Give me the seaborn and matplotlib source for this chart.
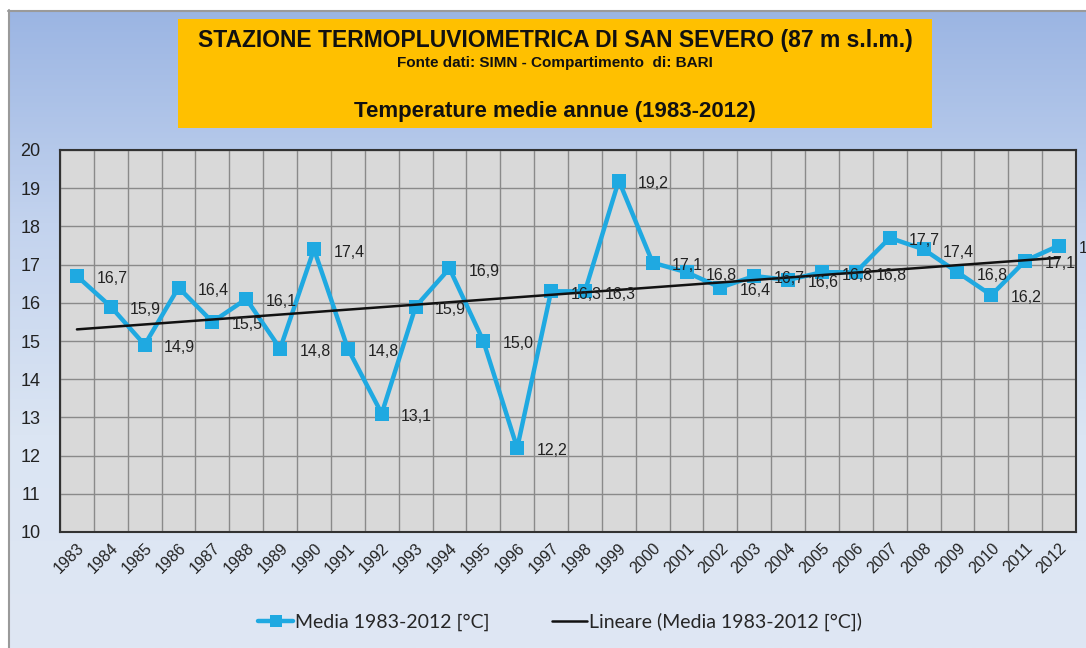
import matplotlib
matplotlib.use("Agg")
import matplotlib.pyplot as plt
import matplotlib.colors as mcolors
from matplotlib.lines import Line2D
from matplotlib.patches import Rectangle
import seaborn as sns
import pandas as pd
import numpy as np

# Data
years = list(range(1983, 2013))
temps = [16.7, 15.9, 14.9, 16.4, 15.5, 16.1, 14.8, 17.4, 14.8, 13.1,
         15.9, 16.9, 15.0, 12.2, 16.3, 16.3, 19.2, 17.05, 16.8, 16.4,
         16.7, 16.6, 16.8, 16.8, 17.7, 17.4, 16.8, 16.2, 17.1, 17.5]
labels = ["16,7", "15,9", "14,9", "16,4", "15,5", "16,1", "14,8", "17,4", "14,8", "13,1",
          "15,9", "16,9", "15,0", "12,2", "16,3", "16,3", "19,2", "17,1", "16,8", "16,4",
          "16,7", "16,6", "16,8", "16,8", "17,7", "17,4", "16,8", "16,2", "17,1", "17,5"]
y_ticks = list(range(10, 21))

df = pd.DataFrame({"idx": np.arange(len(years)), "temp": temps})

# Excel style linear trendline
slope, intercept = np.polyfit(df["idx"], df["temp"], 1)
df["trend"] = intercept + slope * df["idx"]

sns.set_theme(style="white")
plt.rcParams["font.family"] = ["Liberation Sans", "DejaVu Sans"]

fig = plt.figure(figsize=(10.86, 6.48), dpi=100)

# Background: white margin with a light blue gradient chart area
bg = fig.add_axes([0, 0, 1, 1], zorder=-10)
bg.set_xlim(0, 1086)
bg.set_ylim(648, 0)
bg.axis("off")
grad = np.linspace(0, 1, 256).reshape(-1, 1)
cmap = mcolors.LinearSegmentedColormap.from_list("bg", ["#9bb5e3", "#c3d3ee", "#dbe5f3", "#dfe7f4"])
bg.imshow(grad, cmap=cmap, aspect="auto", extent=[8, 1086, 648, 10], zorder=0)
bg.plot([8, 1086], [10.5, 10.5], color="#9a9a9a", lw=1.5, zorder=1)
bg.plot([8.5, 8.5], [10, 648], color="#9a9a9a", lw=1.5, zorder=1)

# Title box
bg.add_patch(Rectangle((178, 19), 754, 109, facecolor="#ffc000", edgecolor="none", zorder=2))
bg.text(555, 40, "STAZIONE TERMOPLUVIOMETRICA DI SAN SEVERO (87 m s.l.m.)",
        ha="center", va="center", fontsize=16.5, fontweight="bold", color="#111111", zorder=3)
bg.text(555, 63, "Fonte dati: SIMN - Compartimento  di: BARI",
        ha="center", va="center", fontsize=11, fontweight="bold", color="#111111", zorder=3)
bg.text(555, 112, "Temperature medie annue (1983-2012)",
        ha="center", va="center", fontsize=16, fontweight="bold", color="#111111", zorder=3)

# Plot area: x 60..1076, y 150..532
ax = fig.add_axes([60 / 1086, 1 - 532 / 648, 1016 / 1086, 382 / 648])
ax.set_facecolor("#d9d9d9")

sns.lineplot(data=df, x="idx", y="temp", ax=ax, color="#1fa9e1", lw=3.2,
             marker="s", markersize=10, markeredgewidth=0, zorder=3)
sns.lineplot(data=df, x="idx", y="trend", ax=ax, color="#111111", lw=1.8, zorder=4)

for i, (t, lab) in enumerate(zip(temps, labels)):
    ax.annotate(lab, (i, t), xytext=(14, -2), textcoords="offset points",
                ha="left", va="center", fontsize=11.5, color="#222222", zorder=5)

ax.set_xlim(-0.5, len(years) - 0.5)
ax.set_ylim(10, 20)
ax.set_yticks(y_ticks)
ax.set_yticklabels([str(v) for v in y_ticks], fontsize=13, color="#222222")
ax.set_xticks(np.arange(len(years)))
ax.set_xticklabels([str(y) for y in years], rotation=45, ha="right",
                   rotation_mode="anchor", fontsize=11.5, color="#222222")
ax.set_xticks(np.arange(len(years) + 1) - 0.5, minor=True)
ax.tick_params(axis="x", which="both", length=0, pad=6)
ax.tick_params(axis="y", length=0, pad=14)
ax.grid(False)
ax.grid(True, axis="y", which="major", color="#8a8a8a", lw=1.0, zorder=1)
ax.grid(True, axis="x", which="minor", color="#8a8a8a", lw=1.0, zorder=1)
ax.set_axisbelow(True)
ax.set_xlabel("")
ax.set_ylabel("")
for s in ax.spines.values():
    s.set_color("#333333")
    s.set_linewidth(1.5)

# Legend under the plot
handles = [
    Line2D([], [], color="#1fa9e1", lw=3.2, marker="s", markersize=9, markeredgewidth=0),
    Line2D([], [], color="#111111", lw=1.8),
]
fig.legend(handles, ["Media 1983-2012 [°C]", "Lineare (Media 1983-2012 [°C])"],
           loc="center", bbox_to_anchor=(560 / 1086, 1 - 622 / 648), ncol=2, frameon=False,
           prop={"family": ["Lato", "DejaVu Sans"], "size": 14},
           handlelength=1.8, handletextpad=0.1, columnspacing=3.2)

fig.savefig("out.png", dpi=100)
